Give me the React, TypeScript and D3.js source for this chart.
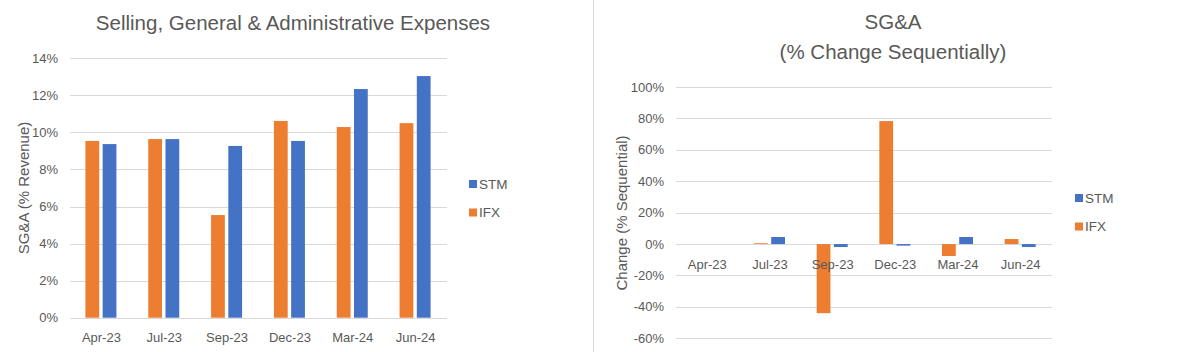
import React, { useEffect, useRef } from "react";
import * as d3 from "d3";

// data
const quarters = ["Apr-23", "Jul-23", "Sep-23", "Dec-23", "Mar-24", "Jun-24"];
const series = ["IFX", "STM"];
const legendOrder = ["STM", "IFX"];

// SG&A as % of revenue
const ifxPct = [0.0954, 0.0964, 0.0554, 0.1062, 0.1029, 0.105];
const stmPct = [0.0937, 0.0964, 0.0927, 0.0954, 0.1234, 0.1304];

// sequential change
const ifxChange = [0, 0.005, -0.44, 0.783, -0.076, 0.032];
const stmChange = [0, 0.045, -0.019, -0.01, 0.045, -0.019];

const leftTicks = [0, 0.02, 0.04, 0.06, 0.08, 0.1, 0.12, 0.14];
const rightTicks = [-0.6, -0.4, -0.2, 0, 0.2, 0.4, 0.6, 0.8, 1.0];

const colors: Record<string, string> = { IFX: "#ED7D31", STM: "#4472C4" };
const textColor = "#595959";
const gridColor = "#d9d9d9";
const font = "'Liberation Sans', Arial, sans-serif";

// excel style percent, plain hyphen for negatives
const pct = (d: number) => `${Math.round(d * 100)}%`;

interface IPanel {
  values: Record<string, number[]>;
  ticks: number[];
  x0: number;
  x1: number;
  yDomain: [number, number];
  yRange: [number, number];
  labelsAtZero: boolean;
  labelY: number;
  titleLines: string[];
  titleX: number;
  titleY: number[];
  axisTitle: string;
  axisTitleX: number;
  axisTitleY: number;
  legendX: number;
  legendY: number[];
}

const drawPanel = (g: d3.Selection<SVGGElement, unknown, null, undefined>, p: IPanel) => {
  const x = d3.scaleBand<string>().domain(quarters).range([p.x0, p.x1]);
  const inner = d3.scaleBand<string>().domain(series).range([-16, 15]).paddingInner(0.2);
  const y = d3.scaleLinear().domain(p.yDomain).range(p.yRange);

  // gridlines
  g.append("g")
    .selectAll("line")
    .data(p.ticks)
    .enter()
    .append("line")
    .attr("x1", p.x0)
    .attr("x2", p.x1)
    .attr("y1", d => Math.round(y(d)) + 0.5)
    .attr("y2", d => Math.round(y(d)) + 0.5)
    .attr("stroke", gridColor)
    .attr("stroke-width", 1);

  // tick labels
  g.append("g")
    .selectAll("text")
    .data(p.ticks)
    .enter()
    .append("text")
    .attr("x", p.x0 - 12)
    .attr("y", d => y(d))
    .attr("dy", "0.35em")
    .attr("text-anchor", "end")
    .attr("fill", textColor)
    .attr("font-size", 13)
    .text(d => pct(d));

  // bars
  series.forEach(s => {
    g.append("g")
      .selectAll("rect")
      .data(p.values[s])
      .enter()
      .append("rect")
      .attr("x", (d, i) => (x(quarters[i]) as number) + x.bandwidth() / 2 + (inner(s) as number))
      .attr("width", inner.bandwidth())
      .attr("y", d => y(Math.max(0, d)))
      .attr("height", d => Math.abs(y(d) - y(0)))
      .attr("fill", colors[s]);
  });

  // category labels
  g.append("g")
    .selectAll("text")
    .data(quarters)
    .enter()
    .append("text")
    .attr("x", d => (x(d) as number) + x.bandwidth() / 2)
    .attr("y", p.labelsAtZero ? y(0) + 20 : p.labelY)
    .attr("dy", "0.35em")
    .attr("text-anchor", "middle")
    .attr("fill", textColor)
    .attr("font-size", 13)
    .text(d => d);

  // title
  g.append("g")
    .selectAll("text")
    .data(p.titleLines)
    .enter()
    .append("text")
    .attr("x", p.titleX)
    .attr("y", (d, i) => p.titleY[i])
    .attr("text-anchor", "middle")
    .attr("fill", textColor)
    .attr("font-size", 20.5)
    .text(d => d);

  // axis title
  g.append("text")
    .attr("transform", `translate(${p.axisTitleX}, ${p.axisTitleY}) rotate(-90)`)
    .attr("dy", "0.35em")
    .attr("text-anchor", "middle")
    .attr("fill", textColor)
    .attr("font-size", 15)
    .text(p.axisTitle);

  // legend
  const legend = g
    .append("g")
    .selectAll("g")
    .data(legendOrder)
    .enter()
    .append("g")
    .attr("transform", (d, i) => `translate(${p.legendX}, ${p.legendY[i]})`);

  legend
    .append("rect")
    .attr("x", 0)
    .attr("y", -4)
    .attr("width", 8)
    .attr("height", 8)
    .attr("fill", d => colors[d]);

  legend
    .append("text")
    .attr("x", 10)
    .attr("dy", "0.35em")
    .attr("fill", textColor)
    .attr("font-size", 13.5)
    .text(d => d);
};

const App: React.FC = () => {
  const d3Container = useRef<SVGSVGElement>(null);

  useEffect(() => {
    if (d3Container.current === null) return;
    const svg = d3.select(d3Container.current);
    svg.selectAll("*").remove();

    svg
      .append("rect")
      .attr("width", 1185)
      .attr("height", 352)
      .attr("fill", "#ffffff");

    // divider between the two charts
    svg
      .append("line")
      .attr("x1", 593.5)
      .attr("x2", 593.5)
      .attr("y1", 0)
      .attr("y2", 352)
      .attr("stroke", gridColor);

    drawPanel(svg.append("g"), {
      values: { IFX: ifxPct, STM: stmPct },
      ticks: leftTicks,
      x0: 70,
      x1: 447,
      yDomain: [0, 0.14],
      yRange: [317.7, 58.3],
      labelsAtZero: false,
      labelY: 337.5,
      titleLines: ["Selling, General & Administrative Expenses"],
      titleX: 293,
      titleY: [30],
      axisTitle: "SG&A (% Revenue)",
      axisTitleX: 24,
      axisTitleY: 188,
      legendX: 469,
      legendY: [184, 212.5]
    });

    drawPanel(svg.append("g"), {
      values: { IFX: ifxChange, STM: stmChange },
      ticks: rightTicks,
      x0: 676,
      x1: 1052,
      yDomain: [-0.6, 1.0],
      yRange: [338.3, 87],
      labelsAtZero: true,
      labelY: 0,
      titleLines: ["SG&A", "(% Change Sequentially)"],
      titleX: 893,
      titleY: [29, 59],
      axisTitle: "Change (% Sequential)",
      axisTitleX: 622,
      axisTitleY: 213,
      legendX: 1075,
      legendY: [198, 226.5]
    });
  }, []);

  return (
    <svg
      ref={d3Container}
      width={1185}
      height={352}
      viewBox="0 0 1185 352"
      style={{ position: "absolute", left: 0, top: 0, fontFamily: font }}
    />
  );
};

export default App;
